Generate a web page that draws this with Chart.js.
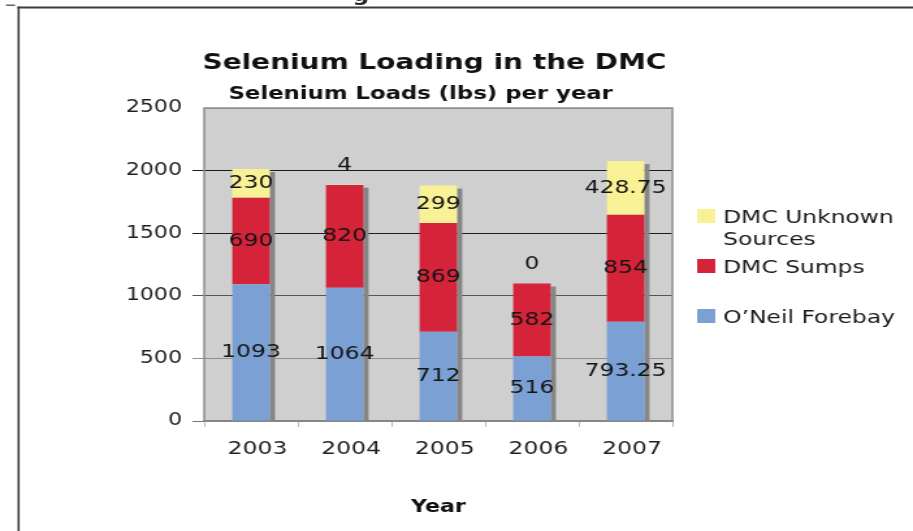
<!DOCTYPE html>
<html>
<head>
<meta charset="utf-8">
<script src="https://cdn.jsdelivr.net/npm/chart.js@4/dist/chart.umd.min.js"></script>
<style>
  html, body { margin: 0; padding: 0; background: #ffffff; overflow: hidden; }
  #chart { display: block; width: 913px; height: 531px; }
</style>
</head>
<body>
<!-- drawn on a 702px-wide canvas and widened to 913px on screen -->
<canvas id="chart" width="702" height="531" style="width:913px;height:531px"></canvas>
<script>
// ---- data ----
const years = ['2003', '2004', '2005', '2006', '2007'];
const oneilForebay = [1093, 1064, 712, 516, 793.25];
const dmcSumps = [690, 820, 869, 582, 854];
const dmcUnknown = [230, 4, 299, 0, 428.75];
const seriesNames = ['O\u2019Neil Forebay', 'DMC Sumps', 'DMC Unknown Sources'];
const yTicks = [0, 500, 1000, 1500, 2000, 2500];
const chartTitle = 'Selenium Loading in the DMC';
const chartSubtitle = 'Selenium Loads (lbs) per year';
const xAxisTitle = 'Year';

// ---- styling ----
const FONT = '"DejaVu Sans", Verdana, sans-serif';
const seriesColors = ['#7ba0d4', '#d5233a', '#f8f196'];
const gridColors = { 0: '#777777', 500: '#8f8f8f', 1000: '#555555', 1500: '#1c1c1c', 2000: '#1c1c1c', 2500: '#9a9a9a' };

// grey plot background, frame and bar shadows
const plotDecor = {
  id: 'plotDecor',
  beforeDraw(chart) {
    const { ctx, chartArea: a } = chart;
    ctx.save();
    ctx.fillStyle = '#cfcfcf';
    ctx.fillRect(a.left, a.top, a.right - a.left, a.bottom - a.top);
    ctx.restore();
  },
  beforeDatasetsDraw(chart) {
    const { ctx, chartArea: a } = chart;
    ctx.save();
    ctx.strokeStyle = '#8c8c8c';
    ctx.lineWidth = 1.5;
    ctx.strokeRect(a.left, a.top, a.right - a.left, a.bottom - a.top);
    const n = chart.data.labels.length;
    for (let i = 0; i < n; i++) {
      let top = Infinity, base = -Infinity, x = null, w = 0;
      chart.data.datasets.forEach((ds, di) => {
        const el = chart.getDatasetMeta(di).data[i];
        if (!el) return;
        top = Math.min(top, el.y, el.base);
        base = Math.max(base, el.y, el.base);
        x = el.x; w = el.width;
      });
      if (x === null) continue;
      ctx.fillStyle = '#868686';
      ctx.fillRect(x + w / 2, top + 3, 4, base - top - 3);
    }
    ctx.restore();
  }
};

// value labels inside each segment; tiny segments get their label above the stack
const valueLabels = {
  id: 'valueLabels',
  afterDatasetsDraw(chart) {
    const { ctx } = chart;
    ctx.save();
    ctx.font = '18px ' + FONT;
    ctx.fillStyle = '#141414';
    ctx.textAlign = 'center';
    ctx.textBaseline = 'middle';
    chart.data.datasets.forEach((ds, di) => {
      const meta = chart.getDatasetMeta(di);
      meta.data.forEach((el, i) => {
        const v = ds.data[i];
        const h = Math.abs(el.base - el.y);
        const y = h < 12 ? Math.min(el.y, el.base) - 19 : (el.y + el.base) / 2;
        ctx.fillText(String(v), el.x, y);
      });
    });
    ctx.restore();
  }
};

// titles, legend and page frame
const pageDecor = {
  id: 'pageDecor',
  afterDraw(chart) {
    const { ctx } = chart;
    ctx.save();
    // page frame
    ctx.strokeStyle = '#3c3c3c';
    ctx.lineWidth = 2;
    ctx.beginPath();
    ctx.moveTo(13.4, 7.5); ctx.lineTo(chart.width, 7.5);
    ctx.stroke();
    ctx.lineWidth = 1.6;
    ctx.beginPath();
    ctx.moveTo(14.3, 6.5); ctx.lineTo(14.3, chart.height);
    ctx.stroke();
    ctx.lineWidth = 1.2;
    ctx.beginPath();
    ctx.moveTo(4.6, 5.2); ctx.lineTo(11.5, 5.2);
    ctx.stroke();
    ctx.fillStyle = '#222222';
    ctx.font = 'bold 18px ' + FONT;
    ctx.textAlign = 'left';
    ctx.textBaseline = 'alphabetic';
    ctx.fillText('g', 271, 1);

    // titles
    ctx.fillStyle = '#111111';
    ctx.textAlign = 'center';
    ctx.font = 'bold 21.5px ' + FONT;
    ctx.fillText(chartTitle, 334, 69);
    ctx.font = 'bold 17.5px ' + FONT;
    ctx.fillText(chartSubtitle, 323.5, 98.5);

    // legend (last series first)
    ctx.font = '18px ' + FONT;
    ctx.textAlign = 'left';
    const boxX = 536, textX = 556, maxW = chart.width - textX - 2;
    const order = chart.data.datasets.map((d, i) => i).reverse();
    order.forEach((di, k) => {
      const ds = chart.data.datasets[di];
      const top = 209 + k * 50;
      ctx.fillStyle = ds.backgroundColor;
      ctx.fillRect(boxX, top, 14, 14);
      // wrap the series name to the space available
      const words = ds.label.split(' ');
      const lines = [];
      let line = '';
      words.forEach(wd => {
        const t = line ? line + ' ' + wd : wd;
        if (ctx.measureText(t).width > maxW && line) { lines.push(line); line = wd; }
        else line = t;
      });
      lines.push(line);
      ctx.fillStyle = '#1a1a1a';
      lines.forEach((ln, j) => ctx.fillText(ln, textX, top + 14 + j * 22));
    });
    ctx.restore();
  }
};

new Chart(document.getElementById('chart'), {
  type: 'bar',
  data: {
    labels: years,
    datasets: [
      { label: seriesNames[0], data: oneilForebay, backgroundColor: seriesColors[0] },
      { label: seriesNames[1], data: dmcSumps, backgroundColor: seriesColors[1] },
      { label: seriesNames[2], data: dmcUnknown, backgroundColor: seriesColors[2] }
    ]
  },
  options: {
    responsive: false,
    animation: false,
    events: [],
    devicePixelRatio: 1,
    layout: { padding: { left: 97, right: 185, top: 108, bottom: 0 } },
    datasets: { bar: { barPercentage: 0.5, categoryPercentage: 0.8, borderWidth: 0 } },
    scales: {
      x: {
        stacked: true,
        grid: { offset: true, drawOnChartArea: false, drawTicks: true, tickLength: 6, tickColor: '#b8b8b8' },
        border: { display: true, color: '#777777', width: 2 },
        ticks: { font: { family: FONT, size: 18 }, color: '#1e1e1e', padding: 12, labelOffset: 5, maxRotation: 0, autoSkip: false },
        title: { display: true, text: xAxisTitle, font: { family: FONT, size: 17, weight: 'bold' }, color: '#111111', padding: { top: 0, bottom: 13 } },
        afterFit(scale) { scale.height = 110; }
      },
      y: {
        stacked: true,
        min: 0,
        max: 2500,
        afterBuildTicks(scale) { scale.ticks = yTicks.map(v => ({ value: v })); },
        grid: {
          color: c => gridColors[c.tick && c.tick.value] || '#888888',
          tickColor: c => (c.tick && c.tick.value === 2500) ? 'rgba(0,0,0,0)' : (gridColors[c.tick && c.tick.value] || '#888888'),
          tickLength: 9,
          lineWidth: 1
        },
        border: { display: false },
        ticks: { font: { family: FONT, size: 17 }, color: '#1e1e1e', padding: 8, callback: v => String(v) },
        afterFit(scale) { scale.width = 60; }
      }
    },
    plugins: { legend: { display: false }, tooltip: { enabled: false }, title: { display: false } }
  },
  plugins: [plotDecor, valueLabels, pageDecor]
});
</script>
</body>
</html>
